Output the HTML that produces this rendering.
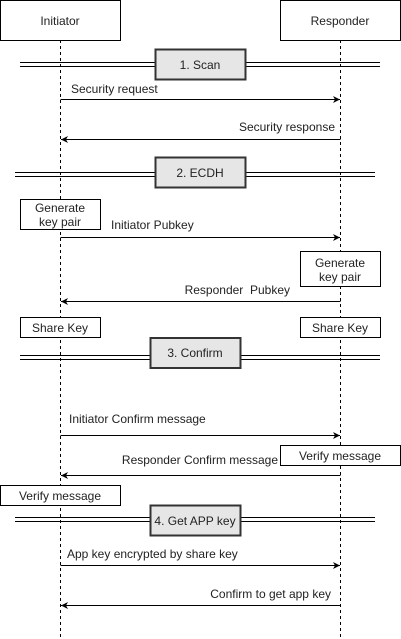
<!DOCTYPE html>
<html><head><meta charset="utf-8"><style>
html,body{margin:0;padding:0;background:#fff;width:401px;height:639px;overflow:hidden}
text{font-family:"Liberation Sans",sans-serif;font-size:12px;fill:#222}
</style></head><body>
<svg width="401" height="639" viewBox="0 0 401 639" xmlns="http://www.w3.org/2000/svg">
<defs><marker id="a" markerWidth="8" markerHeight="8" refX="7" refY="4" orient="auto" markerUnits="userSpaceOnUse"><path d="M0,0.5 L7,4 L0,7.5 L2,4 Z" fill="#000"/></marker></defs>
<g fill="none" stroke="#000">
<line x1="60.5" y1="40" x2="60.5" y2="639" stroke-dasharray="3,3"/>
<line x1="340.5" y1="40" x2="340.5" y2="639" stroke-dasharray="3,3"/>
<rect x="0.5" y="0.5" width="120" height="40" fill="#fff"/>
<rect x="280.5" y="0.5" width="120" height="40" fill="#fff"/>
<!-- section lines -->
<line x1="20" y1="62.5" x2="380" y2="62.5"/><line x1="20" y1="66.5" x2="380" y2="66.5"/>
<line x1="15" y1="172.5" x2="375" y2="172.5"/><line x1="15" y1="176.5" x2="375" y2="176.5"/>
<line x1="20" y1="355.5" x2="380" y2="355.5"/><line x1="20" y1="359.5" x2="380" y2="359.5"/>
<line x1="15" y1="517.5" x2="375" y2="517.5"/><line x1="15" y1="521.5" x2="375" y2="521.5"/>
<g fill="#e6e6e6" stroke="#333" stroke-width="2">
<rect x="155.5" y="49.5" width="90" height="30"/>
<rect x="155.5" y="157.5" width="90" height="30"/>
<rect x="150.5" y="338" width="90" height="30"/>
<rect x="150.5" y="505.5" width="90" height="30"/>
</g>
<g fill="#fff">
<rect x="20.5" y="199.5" width="80" height="30"/>
<rect x="300.5" y="251.5" width="80" height="35"/>
<rect x="20.5" y="317.5" width="80" height="20"/>
<rect x="300.5" y="317.5" width="80" height="20"/>
<rect x="280.5" y="445.5" width="120" height="20"/>
<rect x="0.5" y="485.5" width="120" height="20"/>
</g>
<g marker-end="url(#a)">
<line x1="60.5" y1="99.5" x2="340" y2="99.5"/>
<line x1="340.5" y1="139.5" x2="61" y2="139.5"/>
<line x1="60.5" y1="237.5" x2="340" y2="237.5"/>
<line x1="340.5" y1="301.5" x2="61" y2="301.5"/>
<line x1="60.5" y1="435.5" x2="340" y2="435.5"/>
<line x1="340.5" y1="475.5" x2="61" y2="475.5"/>
<line x1="60.5" y1="565.5" x2="340" y2="565.5"/>
<line x1="340.5" y1="605.5" x2="61" y2="605.5"/>
</g>
</g>
<g text-anchor="middle">
<text x="60" y="25">Initiator</text>
<text x="340" y="25">Responder</text>
<text x="200" y="69">1. Scan</text>
<text x="200" y="177">2. ECDH</text>
<text x="195" y="357">3. Confirm</text>
<text x="195" y="525">4. Get APP key</text>
<text x="60" y="212">Generate</text><text x="60" y="226">key pair</text>
<text x="340" y="267">Generate</text><text x="340" y="281">key pair</text>
<text x="60" y="332">Share Key</text>
<text x="340" y="332">Share Key</text>
<text x="340" y="460">Verify message</text>
<text x="60" y="500">Verify message</text>
</g>
<text x="71" y="93">Security request</text>
<text x="335" y="131" text-anchor="end">Security response</text>
<text x="111" y="229">Initiator Pubkey</text>
<text x="290" y="294" text-anchor="end" xml:space="preserve">Responder  Pubkey</text>
<text x="69" y="423">Initiator Confirm message</text>
<text x="278" y="464" text-anchor="end">Responder Confirm message</text>
<text x="67" y="558">App key encrypted by share key</text>
<text x="331" y="598" text-anchor="end">Confirm to get app key</text>
</svg>
</body></html>
